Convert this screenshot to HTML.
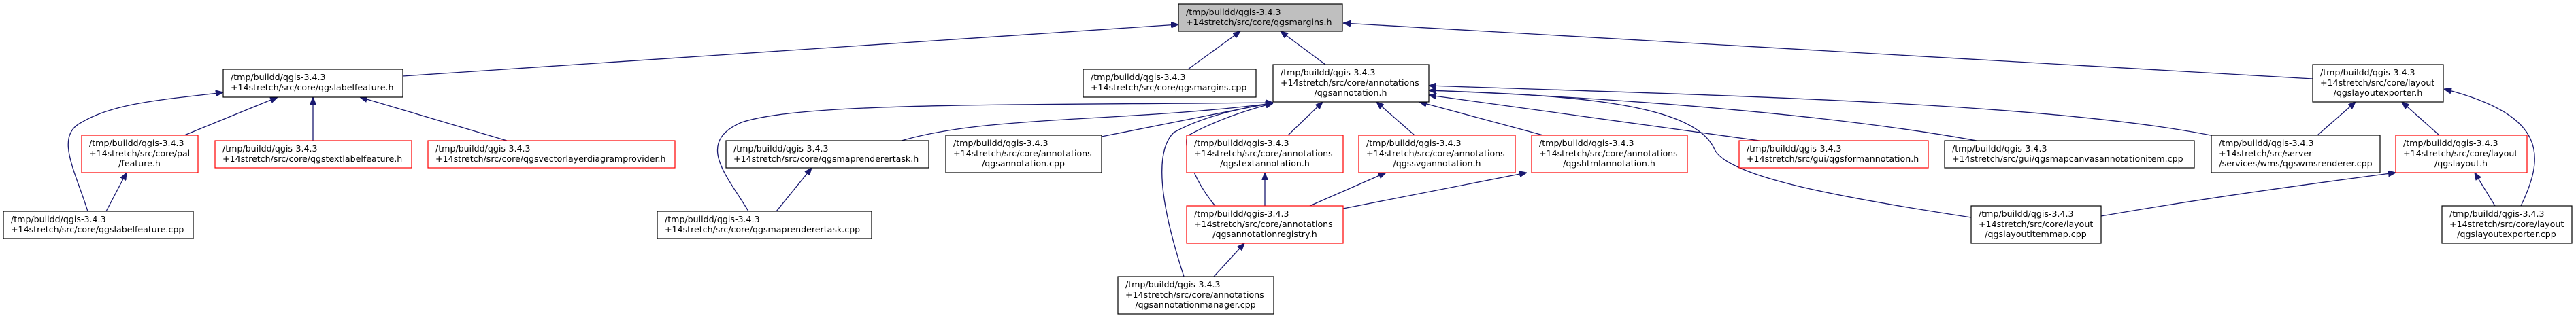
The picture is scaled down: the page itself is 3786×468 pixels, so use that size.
<!DOCTYPE html>
<html><head><meta charset="utf-8"><style>
html,body{margin:0;padding:0;background:#fff;}
svg{display:block;}
text{font-family:"DejaVu Sans","Liberation Sans",sans-serif;font-size:12.6px;fill:#000;}
.e{fill:none;stroke:#191970;stroke-width:1.3;}
.b{fill:#fff;stroke:#000;stroke-width:1.2;}
.r{fill:#fff;stroke:#ff0000;stroke-width:1.2;}
</style></head><body>
<svg width="3786" height="468" viewBox="0 0 3786 468" xmlns="http://www.w3.org/2000/svg">
<defs><marker id="a" viewBox="0 0 10 8" refX="10" refY="4" markerWidth="11" markerHeight="9" markerUnits="userSpaceOnUse" orient="auto"><path d="M0,0 L10,4 L0,8 z" fill="#191970" stroke="#191970"/></marker></defs>
<g marker-end="url(#a)">
<path class="e" d="M592,112 L1732,36"/>
<path class="e" d="M1746,102 L1823,46"/>
<path class="e" d="M1948,95 L1882,46"/>
<path class="e" d="M3399,116 L1974,34"/>
<path class="e" d="M271,199 L408,143"/>
<path class="e" d="M460,207 L460,143"/>
<path class="e" d="M745,207 L529,143"/>
<path class="e" d="M129,311 C110,250 80,200 120,180 C170,150 250,146 328,136"/>
<path class="e" d="M156,311 L186,254"/>
<path class="e" d="M1141,311 L1193,247"/>
<path class="e" d="M1100,311 C1070,260 1020,210 1090,180 C1180,150 1500,155 1871,151"/>
<path class="e" d="M1325,207 C1450,170 1650,180 1871,152"/>
<path class="e" d="M1619,201 L1871,151"/>
<path class="e" d="M1740,407 C1715,330 1690,230 1725,195 C1770,170 1830,158 1871,152"/>
<path class="e" d="M1786,303 C1750,260 1740,215 1745,200 C1790,175 1840,160 1871,152"/>
<path class="e" d="M1893,199 L1944,150"/>
<path class="e" d="M2079,199 L2023,150"/>
<path class="e" d="M2268,199 L2086,150"/>
<path class="e" d="M2586,207 L2100,140"/>
<path class="e" d="M2905,207 C2700,170 2400,145 2100,133"/>
<path class="e" d="M3249,199 C3000,150 2500,140 2100,126"/>
<path class="e" d="M2897,320 C2700,290 2540,260 2520,220 C2490,150 2300,140 2100,133"/>
<path class="e" d="M1859,303 L1859,254"/>
<path class="e" d="M1925,303 L2037,254"/>
<path class="e" d="M1974,307 L2244,254"/>
<path class="e" d="M1784,407 L1829,358"/>
<path class="e" d="M3406,199 L3462,150"/>
<path class="e" d="M3585,199 L3530,150"/>
<path class="e" d="M3705,303 C3740,230 3745,170 3592,131"/>
<path class="e" d="M3667,303 L3637,254"/>
<path class="e" d="M3088,318 C3250,290 3400,270 3521,254"/>
</g>

<rect x="1732" y="6" width="241" height="40" fill="#bfbfbf" stroke="#000" stroke-width="1.2"/>
<text x="1743" y="22">/tmp/buildd/qgis-3.4.3</text><text x="1743" y="37">+14stretch/src/core/qgsmargins.h</text>

<rect class="b" x="328" y="102" width="264" height="41"/>
<text x="339" y="118">/tmp/buildd/qgis-3.4.3</text><text x="339" y="133">+14stretch/src/core/qgslabelfeature.h</text>

<rect class="b" x="1592" y="102" width="254" height="41"/>
<text x="1603" y="118">/tmp/buildd/qgis-3.4.3</text><text x="1603" y="133">+14stretch/src/core/qgsmargins.cpp</text>

<rect class="b" x="1871" y="95" width="229" height="55"/>
<text x="1882" y="111">/tmp/buildd/qgis-3.4.3</text><text x="1882" y="126">+14stretch/src/core/annotations</text><text x="1985" y="141" text-anchor="middle">/qgsannotation.h</text>

<rect class="b" x="3399" y="95" width="192" height="55"/>
<text x="3410" y="111">/tmp/buildd/qgis-3.4.3</text><text x="3410" y="126">+14stretch/src/core/layout</text><text x="3495" y="141" text-anchor="middle">/qgslayoutexporter.h</text>

<rect class="r" x="120" y="199" width="171" height="55"/>
<text x="131" y="215">/tmp/buildd/qgis-3.4.3</text><text x="131" y="230">+14stretch/src/core/pal</text><text x="205" y="245" text-anchor="middle">/feature.h</text>

<rect class="r" x="316" y="207" width="289" height="40"/>
<text x="327" y="223">/tmp/buildd/qgis-3.4.3</text><text x="327" y="238">+14stretch/src/core/qgstextlabelfeature.h</text>

<rect class="r" x="629" y="207" width="363" height="40"/>
<text x="640" y="223">/tmp/buildd/qgis-3.4.3</text><text x="640" y="238">+14stretch/src/core/qgsvectorlayerdiagramprovider.h</text>

<rect class="b" x="1067" y="207" width="298" height="40"/>
<text x="1078" y="223">/tmp/buildd/qgis-3.4.3</text><text x="1078" y="238">+14stretch/src/core/qgsmaprenderertask.h</text>

<rect class="b" x="1390" y="199" width="229" height="55"/>
<text x="1401" y="215">/tmp/buildd/qgis-3.4.3</text><text x="1401" y="230">+14stretch/src/core/annotations</text><text x="1504" y="245" text-anchor="middle">/qgsannotation.cpp</text>

<rect class="r" x="1744" y="199" width="230" height="55"/>
<text x="1755" y="215">/tmp/buildd/qgis-3.4.3</text><text x="1755" y="230">+14stretch/src/core/annotations</text><text x="1859" y="245" text-anchor="middle">/qgstextannotation.h</text>

<rect class="r" x="1997" y="199" width="230" height="55"/>
<text x="2008" y="215">/tmp/buildd/qgis-3.4.3</text><text x="2008" y="230">+14stretch/src/core/annotations</text><text x="2112" y="245" text-anchor="middle">/qgssvgannotation.h</text>

<rect class="r" x="2251" y="199" width="229" height="55"/>
<text x="2262" y="215">/tmp/buildd/qgis-3.4.3</text><text x="2262" y="230">+14stretch/src/core/annotations</text><text x="2365" y="245" text-anchor="middle">/qgshtmlannotation.h</text>

<rect class="r" x="2556" y="207" width="278" height="40"/>
<text x="2567" y="223">/tmp/buildd/qgis-3.4.3</text><text x="2567" y="238">+14stretch/src/gui/qgsformannotation.h</text>

<rect class="b" x="2858" y="207" width="367" height="40"/>
<text x="2869" y="223">/tmp/buildd/qgis-3.4.3</text><text x="2869" y="238">+14stretch/src/gui/qgsmapcanvasannotationitem.cpp</text>

<rect class="b" x="3250" y="199" width="248" height="55"/>
<text x="3261" y="215">/tmp/buildd/qgis-3.4.3</text><text x="3261" y="230">+14stretch/src/server</text><text x="3374" y="245" text-anchor="middle">/services/wms/qgswmsrenderer.cpp</text>

<rect class="r" x="3521" y="199" width="193" height="55"/>
<text x="3532" y="215">/tmp/buildd/qgis-3.4.3</text><text x="3532" y="230">+14stretch/src/core/layout</text><text x="3617" y="245" text-anchor="middle">/qgslayout.h</text>

<rect class="b" x="5" y="311" width="279" height="40"/>
<text x="16" y="327">/tmp/buildd/qgis-3.4.3</text><text x="16" y="342">+14stretch/src/core/qgslabelfeature.cpp</text>

<rect class="b" x="966" y="311" width="315" height="40"/>
<text x="977" y="327">/tmp/buildd/qgis-3.4.3</text><text x="977" y="342">+14stretch/src/core/qgsmaprenderertask.cpp</text>

<rect class="r" x="1744" y="303" width="230" height="55"/>
<text x="1755" y="319">/tmp/buildd/qgis-3.4.3</text><text x="1755" y="334">+14stretch/src/core/annotations</text><text x="1859" y="349" text-anchor="middle">/qgsannotationregistry.h</text>

<rect class="b" x="2897" y="303" width="191" height="55"/>
<text x="2908" y="319">/tmp/buildd/qgis-3.4.3</text><text x="2908" y="334">+14stretch/src/core/layout</text><text x="2992" y="349" text-anchor="middle">/qgslayoutitemmap.cpp</text>

<rect class="b" x="3589" y="303" width="191" height="55"/>
<text x="3600" y="319">/tmp/buildd/qgis-3.4.3</text><text x="3600" y="334">+14stretch/src/core/layout</text><text x="3684" y="349" text-anchor="middle">/qgslayoutexporter.cpp</text>

<rect class="b" x="1643" y="407" width="229" height="55"/>
<text x="1654" y="423">/tmp/buildd/qgis-3.4.3</text><text x="1654" y="438">+14stretch/src/core/annotations</text><text x="1757" y="453" text-anchor="middle">/qgsannotationmanager.cpp</text>
</svg>
</body></html>
